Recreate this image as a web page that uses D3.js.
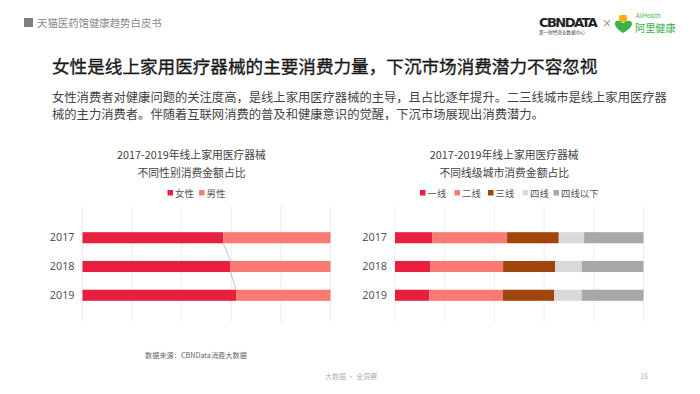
<!DOCTYPE html>
<html>
<head>
<meta charset="utf-8">
<script src="https://cdn.jsdelivr.net/npm/d3@7"></script>
<style>
  body { margin: 0; background: #fff; }
  svg { display: block; font-family: "Noto Sans CJK SC", "Noto Sans", sans-serif; }
</style>
</head>
<body>
<svg id="page" width="700" height="394"></svg>
<script>
// values
let years = ["2017", "2018", "2019"];
let genderNames = ["女性", "男性"];
let female = [56.8, 59.7, 61.9];
let male = [43.2, 40.3, 38.1];
let tierNames = ["一线", "二线", "三线", "四线", "四线以下"];
let tier1 = [15.1, 14.1, 13.8];
let tier2 = [30.0, 29.4, 29.6];
let tier3 = [20.8, 20.9, 20.7];
let tier4 = [10.2, 10.7, 11.0];
let tier5 = [23.9, 24.9, 24.9];
let xTicks = [0, 20, 40, 60, 80, 100];

let genderColors = ["#E8203F", "#F87A73"];
let tierColors = ["#E8203F", "#F87A73", "#A0450B", "#D9D9D9", "#A8A8A8"];

let svg = d3.select("#page");

// header
svg.append("rect").attr("x", 24).attr("y", 18).attr("width", 9).attr("height", 9).attr("fill", "#7f7f7f");
svg.append("text").text("天猫医药馆健康趋势白皮书")
    .attr("x", 37).attr("y", 27).attr("font-size", 10.4).attr("fill", "#8a8a8a");

// logos
svg.append("text").text("CBNDATA")
    .attr("x", 539).attr("y", 27).attr("font-size", 13).attr("font-weight", "bold")
    .attr("font-family", "'DejaVu Sans', sans-serif").attr("letter-spacing", 0.2)
    .attr("textLength", 59).attr("fill", "#222");
svg.append("text").text("第一财经商业数据中心")
    .attr("x", 539).attr("y", 34).attr("font-size", 4.6).attr("fill", "#444");
svg.append("text").text("×")
    .attr("x", 607).attr("y", 27).attr("font-size", 10).attr("text-anchor", "middle").attr("fill", "#777");
svg.append("rect").attr("x", 619).attr("y", 15).attr("width", 8).attr("height", 7).attr("rx", 1.5).attr("fill", "#F6B21B");
svg.append("path")
    .attr("d", "M615,24 Q615,20 619,21 L623,23 L627,21 Q632,20 632,24 Q632,28 623,33 Q615,28 615,24 Z")
    .attr("fill", "#3DB14A");
svg.append("text").text("AliHealth")
    .attr("x", 636).attr("y", 17.5).attr("font-size", 5.8).attr("fill", "#3DB14A");
svg.append("text").text("阿里健康")
    .attr("x", 635).attr("y", 31.5).attr("font-size", 10.2).attr("fill", "#3DB14A");

// headline and intro
svg.append("text").text("女性是线上家用医疗器械的主要消费力量，下沉市场消费潜力不容忽视")
    .attr("x", 52).attr("y", 73).attr("font-size", 17.6)
    .attr("fill", "#1a1a1a").attr("stroke", "#1a1a1a").attr("stroke-width", 0.35);
let intro = ["女性消费者对健康问题的关注度高，是线上家用医疗器械的主导，且占比逐年提升。二三线城市是线上家用医疗器",
             "械的主力消费者。伴随着互联网消费的普及和健康意识的觉醒，下沉市场展现出消费潜力。"];
svg.selectAll(".intro")
    .data(intro)
    .enter().append("text")
    .attr("class", "intro")
    .text(d => d)
    .attr("x", 52)
    .attr("y", (d, i) => 102 + i * 16.5)
    .attr("font-size", 12.3)
    .attr("fill", "#444");

function drawChart(left, right, titles, names, colors, seriesList, legendX) {
    let g = svg.append("g");

    let x = d3.scaleLinear().domain([0, 100]).range([left, right]);
    let y = d3.scaleBand().domain(years).range([214.5, 318.5]).padding(0.615);

    let titleCenter = (left - 30 + right) / 2;
    g.selectAll(".ctitle")
        .data(titles)
        .enter().append("text")
        .text(d => d)
        .attr("x", titleCenter)
        .attr("y", (d, i) => 159 + i * 18)
        .attr("text-anchor", "middle")
        .attr("font-size", 10.8)
        .attr("fill", "#444");

    // legend
    let legend = g.selectAll(".legend")
        .data(names)
        .enter().append("g")
        .attr("transform", (d, i) => "translate(" + legendX[i] + ",193)");
    legend.append("rect")
        .attr("x", 0).attr("y", -3).attr("width", 5.5).attr("height", 5.5)
        .attr("fill", (d, i) => colors[i]);
    legend.append("text")
        .text(d => d)
        .attr("x", 7.5).attr("y", 3.5)
        .attr("font-size", 9.4)
        .attr("fill", "#555");

    // grid
    g.selectAll(".grid")
        .data(xTicks)
        .enter().append("line")
        .attr("x1", d => x(d)).attr("x2", d => x(d))
        .attr("y1", 206).attr("y2", 322)
        .attr("stroke", "#e8e8e8")
        .attr("stroke-width", 0.8);

    // stacked bars
    let rows = years.map((yr, i) => {
        let row = { year: yr };
        names.forEach((n, k) => row[n] = seriesList[k][i]);
        return row;
    });
    let stacked = d3.stack().keys(names)(rows);

    g.selectAll(".layer")
        .data(stacked)
        .enter().append("g")
        .attr("fill", (d, i) => colors[i])
        .selectAll("rect")
        .data(d => d)
        .enter().append("rect")
        .attr("x", d => x(d[0]))
        .attr("width", d => x(d[1]) - x(d[0]))
        .attr("y", d => y(d.data.year))
        .attr("height", y.bandwidth());

    // year labels
    g.append("g")
        .attr("transform", "translate(" + (left - 8) + ",0)")
        .call(d3.axisLeft(y).tickSize(0).tickPadding(0))
        .call(a => a.select(".domain").remove())
        .selectAll("text")
        .attr("font-size", 10.8)
        .attr("font-family", "'Noto Sans', sans-serif")
        .attr("fill", "#555");

    return { x: x, y: y, stacked: stacked };
}

let genderChart = drawChart(82.5, 330.5,
    ["2017-2019年线上家用医疗器械", "不同性别消费金额占比"],
    genderNames, genderColors, [female, male], [167.5, 199]);

// thin connector lines between female segment ends
let femaleEnds = genderChart.stacked[0];
svg.selectAll(".connector")
    .data(femaleEnds.slice(0, -1))
    .enter().append("line")
    .attr("x1", d => genderChart.x(d[1]))
    .attr("y1", d => genderChart.y(d.data.year) + genderChart.y.bandwidth())
    .attr("x2", (d, i) => genderChart.x(femaleEnds[i + 1][1]))
    .attr("y2", (d, i) => genderChart.y(femaleEnds[i + 1].data.year))
    .attr("stroke", "#9a9a9a")
    .attr("stroke-width", 0.6);

drawChart(395, 643.5,
    ["2017-2019年线上家用医疗器械", "不同线级城市消费金额占比"],
    tierNames, tierColors, [tier1, tier2, tier3, tier4, tier5], [420, 454.5, 488, 522.5, 553.5]);

// footnotes
svg.append("text").text("数据来源：CBNData消费大数据")
    .attr("x", 145).attr("y", 357.5).attr("font-size", 7.2).attr("fill", "#666");
svg.append("text").text("大数据 · 全洞察")
    .attr("x", 325).attr("y", 379).attr("font-size", 7).attr("fill", "#b0b0b0");
svg.append("text").text("16")
    .attr("x", 640).attr("y", 379).attr("font-size", 7.2).attr("fill", "#b0b0b0");
</script>
</body>
</html>
